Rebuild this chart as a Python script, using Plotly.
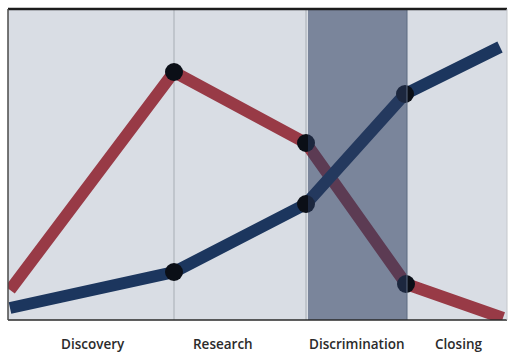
import plotly.graph_objects as go

# Sales-stage engagement curves
stages = ["Discovery", "Research", "Discrimination", "Closing"]
stage_label_x = [85, 215, 349, 450]
stage_bounds = [166, 298, 399]          # divider positions between stages
band_range = [300, 399]                 # highlighted "Discrimination" stage

red_x = [2, 166, 298, 398, 495]
red_y = [30, 248, 177, 36, 2]
blue_x = [2, 166, 298, 397, 492]
blue_y = [12, 48, 116, 226, 273]

marker_idx = [1, 2, 3]

RED = "#983a46"
BLUE = "#1c365e"
PANEL = "#d9dde4"

fig = go.Figure()

for xs, ys, col in [(red_x, red_y, RED), (blue_x, blue_y, BLUE)]:
    fig.add_trace(go.Scatter(x=xs, y=ys, mode="lines",
                             line=dict(color=col, width=12),
                             hoverinfo="skip", showlegend=False))

for xs, ys in [(red_x, red_y), (blue_x, blue_y)]:
    fig.add_trace(go.Scatter(x=[xs[i] for i in marker_idx],
                             y=[ys[i] for i in marker_idx],
                             mode="markers",
                             marker=dict(color="#0b0f17", size=18),
                             hoverinfo="skip", showlegend=False))

shapes = []
# thin stage dividers
for b in stage_bounds[:2]:
    shapes.append(dict(type="line", xref="x", yref="paper", x0=b, x1=b, y0=0, y1=1,
                       line=dict(color="#b7bcc5", width=1.5), layer="below"))
# highlighted stage band
shapes.append(dict(type="rect", xref="x", yref="paper", x0=band_range[0], x1=band_range[1],
                   y0=0, y1=1, fillcolor="#2c3d5e", opacity=0.55,
                   line=dict(width=0), layer="above"))
shapes.append(dict(type="line", xref="x", yref="paper", x0=band_range[1], x1=band_range[1],
                   y0=0, y1=1, line=dict(color="#5d6a80", width=1), layer="above"))
# panel frame
shapes += [
    dict(type="line", xref="paper", yref="paper", x0=0, x1=1, y0=1, y1=1,
         line=dict(color="#1c1c1c", width=2.5), layer="above"),
    dict(type="line", xref="paper", yref="paper", x0=0, x1=1, y0=0, y1=0,
         line=dict(color="#2a2a2a", width=1.5), layer="above"),
    dict(type="line", xref="paper", yref="paper", x0=0, x1=0, y0=0, y1=1,
         line=dict(color="#4a4a4a", width=1.5), layer="above"),
    dict(type="line", xref="paper", yref="paper", x0=1, x1=1, y0=0, y1=1,
         line=dict(color="#c4c7cc", width=1), layer="above"),
]

annotations = [dict(x=x, y=-0.077, xref="x", yref="paper", text=s, showarrow=False,
                    font=dict(family="Open Sans", size=13.5, color="#2b2b2b", weight=600),
                    xanchor="center", yanchor="middle")
               for s, x in zip(stages, stage_label_x)]

fig.update_layout(
    width=508, height=354,
    margin=dict(l=8, r=1, t=9, b=34),
    paper_bgcolor="white", plot_bgcolor=PANEL,
    shapes=shapes, annotations=annotations,
    xaxis=dict(range=[0, 499], visible=False, fixedrange=True),
    yaxis=dict(range=[0, 311], visible=False, fixedrange=True),
)

fig.write_html("out.html")
